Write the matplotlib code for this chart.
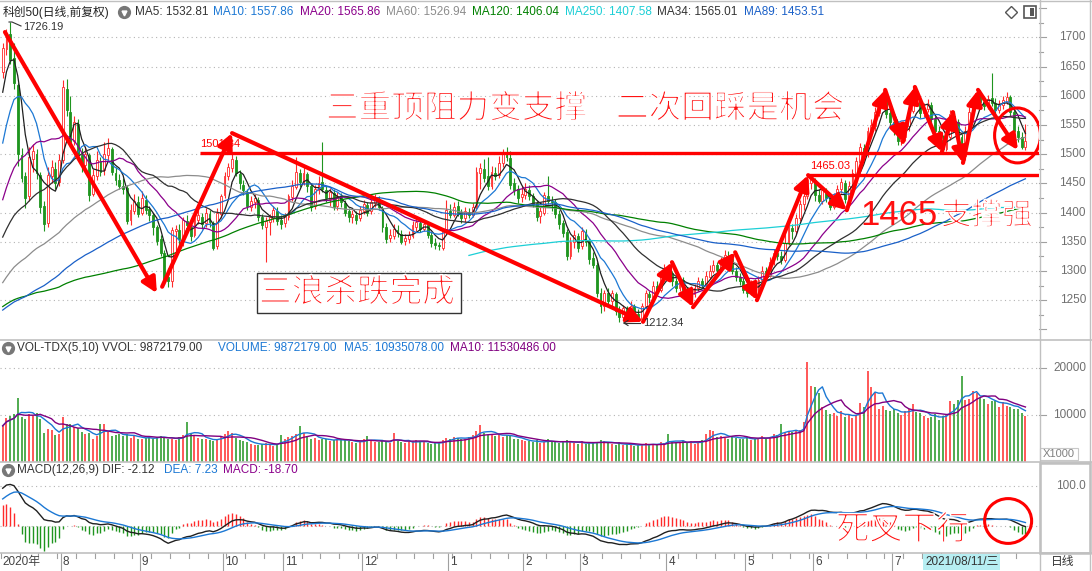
import numpy as np
import pandas as pd
import matplotlib
matplotlib.use('Agg')
import matplotlib.pyplot as plt
import matplotlib.transforms as mtransforms
import matplotlib.patheffects as pe
from matplotlib.patches import Ellipse, Rectangle
from matplotlib.lines import Line2D

plt.rcParams['font.family'] = ['Liberation Sans', 'Noto Sans CJK SC', 'DejaVu Sans']

# ---- data (index points) ----
# closes before the first visible bar, only used for the long moving averages / MACD
pre_close = [1000, 1030, 1060, 1100, 1140, 1165,
             1180, 1195, 1210, 1205, 1220, 1235, 1240, 1232, 1245, 1258, 1250, 1262, 1270, 1255, 1240, 1200,
             1215, 1235, 1250, 1262, 1275, 1285, 1295, 1305, 1320, 1315, 1330, 1320, 1290, 1269, 1280,
             1270, 1255, 1235, 1210, 1187, 1170, 1140, 1120, 1130, 1100, 1080, 1060, 1050, 1070, 1040,
             1060, 1090, 1110, 1100, 1120, 1130, 1125, 1140, 1150, 1145, 1160, 1155, 1165, 1170,
             1130, 1140, 1135, 1150, 1145, 1155, 1160, 1150, 1165, 1170, 1160, 1175, 1180, 1170, 1185,
             1190, 1195, 1185, 1200, 1205, 1210, 1200, 1215, 1211, 1222, 1225,
             1240, 1245, 1255, 1250, 1260, 1265, 1262, 1270, 1275, 1268, 1278, 1280, 1290, 1294,
             1290, 1300, 1310, 1305, 1320, 1330, 1335, 1340, 1350, 1370,
             1400, 1415, 1430, 1450, 1465,
             1530, 1570, 1610, 1638]

opens = [
    1640, 1680, 1705, 1665, 1618, 1498, 1462, 1428, 1492, 1500,
    1465, 1412, 1382, 1462, 1475, 1452, 1490, 1612, 1572, 1522,
    1552, 1498, 1482, 1498, 1432, 1462, 1488, 1472, 1498, 1508,
    1468, 1456, 1446, 1442, 1388, 1402, 1418, 1400, 1422, 1406,
    1396, 1376, 1355, 1330, 1290, 1282, 1368, 1370, 1352, 1386,
    1376, 1362, 1388, 1393, 1382, 1398, 1382, 1342, 1398, 1430,
    1462, 1476, 1490, 1466, 1448, 1436, 1410, 1418, 1422, 1392,
    1375, 1384, 1390, 1403, 1388, 1382, 1392, 1426, 1444, 1468,
    1454, 1466, 1446, 1412, 1438, 1452, 1438, 1424, 1434, 1412,
    1426, 1416, 1402, 1392, 1396, 1390, 1403, 1413, 1402, 1416,
    1423, 1408, 1376, 1357, 1360, 1370, 1364, 1352, 1355, 1360,
    1376, 1382, 1372, 1378, 1362, 1348, 1344, 1340, 1366, 1403,
    1396, 1412, 1400, 1390, 1400, 1396, 1410, 1468, 1474, 1462,
    1446, 1468, 1464, 1484, 1498, 1494, 1450, 1440, 1426, 1430,
    1438, 1428, 1416, 1394, 1400, 1428, 1420, 1418, 1398, 1382,
    1366, 1326, 1350, 1360, 1342, 1366, 1352, 1322, 1310, 1262,
    1240, 1262, 1248, 1260, 1232, 1222, 1235, 1226, 1240, 1226,
    1218, 1240, 1260, 1255, 1274, 1268, 1288, 1303, 1296, 1282,
    1270, 1284, 1268, 1256, 1260, 1270, 1282, 1276, 1290, 1300,
    1310, 1302, 1318, 1326, 1320, 1300, 1290, 1282, 1268, 1262,
    1278, 1270, 1285, 1300, 1292, 1315, 1330, 1325, 1318, 1348,
    1374, 1368, 1390, 1414, 1428, 1450, 1456, 1430, 1420, 1436,
    1426, 1410, 1428, 1440, 1450, 1425, 1444, 1466, 1486, 1510,
    1498, 1538, 1548, 1570, 1590, 1600, 1570, 1555, 1540, 1522,
    1530, 1548, 1574, 1604, 1590, 1570, 1578, 1584, 1560, 1540,
    1525, 1508, 1530, 1566, 1555, 1530, 1496, 1538, 1570, 1588,
    1604, 1590, 1582, 1596, 1588, 1575, 1584, 1590, 1598, 1572,
    1540, 1530, 1512]

closes = [
    1682, 1705, 1662, 1622, 1500, 1460, 1425, 1495, 1505, 1468,
    1410, 1380, 1465, 1478, 1450, 1490, 1615, 1575, 1520, 1555,
    1500, 1480, 1500, 1430, 1465, 1490, 1470, 1500, 1510, 1470,
    1455, 1445, 1440, 1385, 1405, 1420, 1398, 1425, 1405, 1395,
    1375, 1352, 1330, 1285, 1282, 1370, 1372, 1355, 1388, 1378,
    1360, 1390, 1395, 1380, 1400, 1384, 1340, 1400, 1428, 1462,
    1478, 1492, 1468, 1450, 1438, 1412, 1420, 1425, 1392, 1378,
    1385, 1392, 1405, 1386, 1380, 1394, 1428, 1445, 1470, 1452,
    1468, 1445, 1410, 1440, 1450, 1440, 1425, 1436, 1410, 1428,
    1418, 1400, 1392, 1398, 1388, 1405, 1415, 1400, 1418, 1425,
    1410, 1375, 1355, 1362, 1372, 1365, 1350, 1356, 1362, 1378,
    1384, 1372, 1380, 1362, 1348, 1345, 1342, 1368, 1405, 1395,
    1410, 1400, 1390, 1402, 1395, 1410, 1470, 1476, 1460, 1445,
    1470, 1462, 1485, 1500, 1495, 1448, 1438, 1425, 1432, 1440,
    1428, 1415, 1392, 1402, 1430, 1420, 1418, 1398, 1380, 1365,
    1325, 1350, 1362, 1340, 1368, 1350, 1320, 1310, 1262, 1240,
    1262, 1248, 1262, 1232, 1222, 1236, 1226, 1240, 1225, 1218,
    1240, 1262, 1255, 1275, 1268, 1290, 1305, 1296, 1282, 1270,
    1285, 1268, 1255, 1262, 1270, 1282, 1276, 1292, 1300, 1310,
    1302, 1318, 1328, 1320, 1300, 1290, 1282, 1268, 1262, 1278,
    1270, 1285, 1300, 1292, 1315, 1330, 1325, 1318, 1348, 1376,
    1368, 1390, 1415, 1428, 1455, 1458, 1430, 1420, 1438, 1425,
    1410, 1428, 1440, 1452, 1424, 1445, 1468, 1488, 1512, 1498,
    1540, 1550, 1572, 1590, 1600, 1568, 1555, 1540, 1522, 1530,
    1548, 1575, 1605, 1590, 1570, 1578, 1585, 1560, 1540, 1525,
    1508, 1530, 1568, 1555, 1530, 1495, 1540, 1572, 1590, 1605,
    1590, 1582, 1595, 1588, 1575, 1585, 1592, 1598, 1572, 1540,
    1530, 1512, 1522]

highs = [
    1690, 1715, 1726.19, 1690, 1622, 1510, 1470, 1512, 1518, 1508,
    1470, 1420, 1478, 1490, 1486, 1500, 1627, 1628, 1600, 1565,
    1560, 1510, 1512, 1502, 1475, 1505, 1495, 1520, 1528, 1512,
    1478, 1466, 1460, 1448, 1415, 1432, 1428, 1437, 1430, 1412,
    1400, 1378, 1362, 1336, 1305, 1376, 1378, 1380, 1393, 1395,
    1382, 1398, 1404, 1400, 1408, 1404, 1386, 1407, 1432, 1470,
    1485, 1501.84, 1496, 1472, 1456, 1440, 1428, 1432, 1426, 1398,
    1392, 1398, 1412, 1410, 1396, 1400, 1432, 1456, 1495, 1474,
    1478, 1470, 1450, 1448, 1462, 1521, 1446, 1442, 1440, 1436,
    1434, 1422, 1408, 1405, 1402, 1412, 1422, 1418, 1424, 1432,
    1428, 1412, 1382, 1372, 1380, 1378, 1370, 1364, 1368, 1385,
    1390, 1388, 1386, 1382, 1366, 1356, 1350, 1372, 1422, 1415,
    1418, 1420, 1406, 1410, 1408, 1416, 1478, 1485, 1492, 1495,
    1480, 1478, 1496, 1508, 1512, 1505, 1460, 1448, 1445, 1450,
    1448, 1434, 1420, 1410, 1436, 1462, 1428, 1424, 1405, 1388,
    1372, 1358, 1370, 1365, 1375, 1372, 1356, 1332, 1315, 1270,
    1268, 1270, 1268, 1264, 1240, 1242, 1240, 1248, 1244, 1235,
    1246, 1268, 1266, 1282, 1282, 1296, 1312, 1310, 1300, 1288,
    1292, 1290, 1272, 1275, 1278, 1290, 1288, 1300, 1310, 1318,
    1315, 1324, 1336, 1334, 1326, 1306, 1296, 1288, 1276, 1284,
    1286, 1292, 1308, 1306, 1324, 1338, 1340, 1334, 1364, 1384,
    1380, 1398, 1422, 1433, 1465.03, 1463, 1460, 1440, 1445, 1442,
    1432, 1434, 1448, 1460, 1455, 1454, 1475, 1495, 1519, 1518,
    1547, 1560, 1580, 1598, 1610, 1606, 1578, 1565, 1552, 1538,
    1555, 1582, 1615, 1612, 1596, 1588, 1594, 1590, 1566, 1548,
    1532, 1538, 1576, 1574, 1560, 1534, 1548, 1580, 1596, 1612,
    1610, 1600, 1602, 1639, 1596, 1592, 1600, 1606, 1602, 1578,
    1548, 1538, 1552]

lows = [
    1630, 1670, 1655, 1612, 1480, 1452, 1408, 1420, 1470, 1458,
    1400, 1368, 1375, 1450, 1440, 1445, 1485, 1565, 1512, 1515,
    1492, 1470, 1478, 1420, 1428, 1455, 1462, 1465, 1490, 1465,
    1448, 1440, 1432, 1380, 1378, 1398, 1392, 1395, 1398, 1385,
    1362, 1345, 1325, 1278, 1273, 1273, 1335, 1345, 1342, 1365,
    1352, 1358, 1380, 1372, 1376, 1375, 1336, 1338, 1390, 1425,
    1455, 1470, 1462, 1440, 1430, 1405, 1402, 1408, 1385, 1372,
    1315, 1362, 1383, 1378, 1372, 1376, 1388, 1420, 1440, 1444,
    1448, 1436, 1402, 1406, 1432, 1436, 1418, 1412, 1404, 1405,
    1410, 1394, 1384, 1382, 1380, 1385, 1398, 1394, 1398, 1410,
    1404, 1366, 1348, 1350, 1355, 1358, 1346, 1344, 1348, 1356,
    1368, 1366, 1368, 1356, 1341, 1338, 1336, 1336, 1364, 1390,
    1392, 1394, 1382, 1384, 1390, 1392, 1405, 1440, 1452, 1438,
    1440, 1455, 1460, 1478, 1488, 1440, 1430, 1416, 1418, 1424,
    1422, 1410, 1385, 1382, 1396, 1415, 1402, 1390, 1372, 1358,
    1318, 1320, 1340, 1332, 1338, 1342, 1312, 1305, 1255, 1228,
    1232, 1240, 1238, 1225, 1212.34, 1218, 1220, 1222, 1218, 1216,
    1214, 1235, 1246, 1250, 1262, 1264, 1282, 1288, 1274, 1264,
    1266, 1262, 1250, 1250, 1256, 1266, 1270, 1272, 1286, 1296,
    1296, 1298, 1312, 1314, 1294, 1282, 1276, 1262, 1256, 1258,
    1264, 1260, 1280, 1286, 1290, 1310, 1318, 1312, 1316, 1344,
    1355, 1364, 1385, 1405, 1424, 1440, 1420, 1416, 1415, 1418,
    1404, 1406, 1422, 1434, 1416, 1420, 1440, 1460, 1480, 1490,
    1495, 1530, 1540, 1565, 1582, 1562, 1548, 1532, 1516, 1515,
    1522, 1540, 1570, 1582, 1562, 1564, 1572, 1552, 1532, 1515,
    1502, 1505, 1525, 1545, 1522, 1484, 1490, 1532, 1565, 1580,
    1584, 1576, 1578, 1582, 1568, 1570, 1578, 1585, 1565, 1530,
    1520, 1508, 1507]

# volume in thousands (axis shows X1000)
volumes = [
    7700, 9400, 9800, 10300, 13700, 9600, 9200, 10200, 9800, 10400,
    9200, 6200, 7000, 6800, 5800, 6000, 9600, 8200, 8000, 7400,
    7200, 6400, 6000, 6200, 4800, 5600, 8000, 8100, 6400, 5600,
    5800, 6000, 5600, 5900, 5200, 5600, 5000, 4800, 5100, 5400,
    5000, 5300, 5600, 5200, 4800, 5000, 4600, 5400, 5800, 8500,
    6000, 5600, 5200, 4800, 5000, 4600, 4400, 5000, 5600, 6000,
    6600, 6200, 5200, 4600, 4400, 4200, 3800, 3600, 3600, 3800,
    4000, 3800, 3400, 3600, 5800, 5000, 5400, 5600, 6000, 7700,
    6200, 5600, 5000, 5200, 4600, 5000, 4800, 4400, 4600, 5000,
    4800, 4600, 4400, 4200, 4000, 4400, 4800, 5600, 4400, 4200,
    4200, 4600, 4400, 4000, 6200, 4400, 4200, 4000, 4200, 4400,
    4600, 4400, 4200, 4000, 3800, 4000, 4200, 4600, 5200, 5000,
    5400, 5200, 4800, 5000, 5400, 5800, 6600, 7900, 6200, 5800,
    6000, 5600, 5800, 5400, 5800, 5600, 5000, 4800, 4600, 4400,
    4400, 4200, 4600, 4000, 4300, 4800, 4400, 4200, 4000, 4400,
    4600, 4200, 4000, 3800, 4400, 3800, 4200, 4000, 4200, 4600,
    4400, 4000, 3800, 3600, 4200, 3600, 3800, 3600, 3400, 3600,
    3800, 4000, 3600, 3800, 3600, 4200, 4000, 5900, 4200, 4000,
    4200, 4400, 4000, 4400, 3800, 4200, 4600, 6000, 6850, 6600,
    5400, 5600, 5200, 5000, 5600, 5200, 4800, 5000, 5400, 4600,
    4800, 5200, 5600, 5000, 5400, 6000, 5800, 8000, 6200, 6600,
    6400, 6600, 6800, 8500, 21400, 16300, 16000, 14600, 11800, 11000,
    10200, 10400, 9800, 10800, 9600, 10000, 9400, 9800, 12600, 11800,
    19500, 16000, 14600, 11400, 12000, 11000, 10800, 11200, 10400, 10000,
    10800, 11200, 12300, 10600, 10400, 9800, 9400, 9600, 10200, 9000,
    9800, 10200, 13000, 12400, 13200, 18400, 13200, 13400, 15200, 14800,
    13700, 13400, 12400, 13000, 13000, 11800, 12800, 12000, 11800, 11400,
    11200, 10400, 9872]

month_labels = ['2020年', '8', '9', '10', '11', '12', '1', '2', '3', '4', '5', '6', '7']
month_start = [0, 16, 37, 59, 75, 96, 119, 139, 154, 177, 198, 216, 237]

ma_periods = [5, 10, 20, 60, 120, 250, 34, 89]
ma_colors = ['#202020', '#1c78d4', '#8b008b', '#8c8c8c', '#008000', '#1ccfd6', '#303030', '#1a60c8']
ma_header = ['MA5: 1532.81', 'MA10: 1557.86', 'MA20: 1565.86', 'MA60: 1526.94', 'MA120: 1406.04',
             'MA250: 1407.58', 'MA34: 1565.01', 'MA89: 1453.51']
ma_header_x = [135, 213, 300, 386, 472, 565, 657, 744]

# hand drawn annotations (bar index, price)
arrow_segments = [((0.6, 1709), (41.0, 1262)), ((42.4, 1273), (61.0, 1536)), ((61.0, 1536), (170.3, 1213))]
zigzag = [(170.3, 1213), (178.0, 1315), (183.6, 1238), (194.8, 1332), (200.6, 1250), (214.2, 1464),
          (224.5, 1404), (234.7, 1610), (239.4, 1521), (242.6, 1615), (249.8, 1504), (252.7, 1572),
          (255.4, 1485), (259.4, 1610), (270.0, 1507)]

RED = '#ff2a2a'
GREEN = '#1f951f'
GRID = '#b4b4b4'
LINE = '#c0c0c0'

n = min(len(opens), len(closes), len(highs), len(lows), len(volumes))
O = np.array(opens[:n], float)
C = np.array(closes[:n], float)
Hh = np.array(highs[:n], float)
Ll = np.array(lows[:n], float)
V = np.array(volumes[:n], float)
x = np.arange(n)
up = C >= O
cols = np.where(up, RED, GREEN)

W, Hpx = 1092, 571
fig = plt.figure(figsize=(W / 100, Hpx / 100), dpi=100)
fig.patch.set_facecolor('white')


def px_axes(x0, y0, x1, y1):
    a = fig.add_axes([x0 / W, 1 - y1 / Hpx, (x1 - x0) / W, (y1 - y0) / Hpx])
    a.set_axis_off()
    return a


def ftext(xp, yp, s, **kw):
    kw.setdefault('va', 'center')
    kw.setdefault('ha', 'left')
    return fig.text(xp / W, 1 - yp / Hpx, s, **kw)


def fline(xs, ys, **kw):
    fig.add_artist(Line2D([v / W for v in xs], [1 - v / Hpx for v in ys], transform=fig.transFigure, **kw))


# thin strokes like the hand-written song-style labels
thin = [pe.Stroke(linewidth=1.1, foreground='white')]
cjk = ['Noto Sans CJK SC']


def bigtext(xp, yp, s, size):
    return ftext(xp, yp, s, color='#ff1010', fontsize=size, family=cjk, zorder=9, path_effects=thin)


XL = (-2.7 / 3.76, (1039 - 2.7) / 3.76)
ax = px_axes(0, 0, 1039, 340)
axv = px_axes(0, 340, 1039, 462)
axm = px_axes(0, 462, 1039, 553)
axx = px_axes(0, 553, 1039, 571)
for a in (ax, axv, axm, axx):
    a.set_xlim(*XL)
ax.set_ylim(1181.8, 1763.9)
axv.set_ylim(0, 26000)
axm.set_ylim(-67.5, 160)
axx.set_ylim(0, 1)

# ---- price panel ----
for lv in range(1250, 1701, 50):
    ax.axhline(lv, color=GRID, lw=0.8, ls=(0, (1, 3)), zorder=0)

ax.vlines(x, Ll, Hh, colors=cols, lw=0.8, zorder=2)
ax.bar(x[up], np.maximum(C[up] - O[up], 0.8), bottom=O[up], width=0.5, facecolor='white',
       edgecolor=RED, lw=0.6, zorder=3)
ax.bar(x[~up], O[~up] - C[~up], bottom=C[~up], width=0.5, facecolor=GREEN,
       edgecolor=GREEN, lw=0.6, zorder=3)

full = pd.Series(pre_close + list(C))
npre = len(pre_close)
for p, colr in zip(ma_periods, ma_colors):
    ma = full.rolling(p).mean().iloc[npre:].to_numpy()
    ax.plot(x, ma, color=colr, lw=0.9, zorder=4)

# support lines and labels
ax.plot([52.5, XL[1] + 1], [1501.84, 1501.84], color='#ff0000', lw=2.4, zorder=6, solid_capstyle='butt')
ax.plot([214.2, XL[1] + 1], [1465.03, 1465.03], color='#ff0000', lw=2.4, zorder=6, solid_capstyle='butt')
ftext(200, 144, '1501.84', color='#ff0000', fontsize=8)
ftext(810, 166, '1465.03', color='#ff0000', fontsize=8)

arrow_kw = dict(arrowstyle='-|>,head_length=0.9,head_width=0.45', lw=3, color='#ff0000',
                shrinkA=0, shrinkB=0, mutation_scale=10)
for p0, p1 in arrow_segments + list(zip(zigzag[:-1], zigzag[1:])):
    ax.annotate('', xy=p1, xytext=p0, arrowprops=arrow_kw, zorder=8)

ax.add_patch(Ellipse((269.9, 1532), 12.2, 94, fill=False, ec='#ff0000', lw=2.2, zorder=8))

# high / low markers
ftext(23, 27, '1726.19', color='#333333', fontsize=8)
fline([9, 12, 21], [22, 22, 26], color='#333333', lw=0.8)
ftext(643, 323, '1212.34', color='#333333', fontsize=8)
fline([624, 640], [323, 323], color='#333333', lw=0.8)
fline([624, 628], [323, 320.5], color='#333333', lw=0.8)
fline([624, 628], [323, 325.5], color='#333333', lw=0.8)

# big annotation texts
bigtext(326, 109, '三重顶阻力变支撑', 23.5)
bigtext(616, 109, '二次回踩是机会', 23.5)
fig.add_artist(Rectangle((257 / W, 1 - 313 / Hpx), 204 / W, 40 / Hpx, transform=fig.transFigure,
                         facecolor='white', edgecolor='#333333', lw=1, zorder=7))
bigtext(259, 293, '三浪杀跌完成', 23.5)
ftext(860, 215, '1465', color='#ff1010', fontsize=25, family=['Liberation Sans'], zorder=9)
bigtext(941, 216, '支撑强', 22)

# header of price panel
ftext(3, 12, '科创50(日线,前复权)', color='#222222', fontsize=8.5)
fig.add_artist(Line2D([124 / W], [1 - 12 / Hpx], marker='o', ms=8.5, color='#777777', transform=fig.transFigure))
fig.add_artist(Line2D([124 / W], [1 - 12.5 / Hpx], marker='v', ms=3.5, color='white', transform=fig.transFigure))
hdr_colors = ['#333333', '#1c78d4', '#8b008b', '#8c8c8c', '#008000', '#1ccfd6', '#333333', '#1a60c8']
for s, xp, colr in zip(ma_header, ma_header_x, hdr_colors):
    ftext(xp, 12, s, color=colr, fontsize=8.5)
fig.add_artist(Line2D([1011 / W], [1 - 12 / Hpx], marker='D', ms=6, mfc='white', mec='#555555', mew=1,
                      transform=fig.transFigure))
fig.add_artist(Rectangle((1024 / W, 1 - 18 / Hpx), 12 / W, 12 / Hpx, transform=fig.transFigure,
                         facecolor='white', edgecolor='#555555', lw=1.2))
fig.add_artist(Rectangle((1030 / W, 1 - 16 / Hpx), 4 / W, 8 / Hpx, transform=fig.transFigure,
                         facecolor='#555555', edgecolor='none'))

# ---- volume panel ----
for lv in (10000, 20000):
    axv.axhline(lv, color=GRID, lw=0.8, ls=(0, (1, 3)), zorder=0)
axv.vlines(x, 0, V, colors=cols, lw=1.1, zorder=2)
vs = pd.Series(V)
axv.plot(x, vs.rolling(5, min_periods=1).mean(), color='#1c78d4', lw=1, zorder=3)
axv.plot(x, vs.rolling(10, min_periods=1).mean(), color='#800080', lw=1, zorder=3)

fig.add_artist(Line2D([7.7 / W], [1 - 348 / Hpx], marker='o', ms=8.5, color='#777777', transform=fig.transFigure))
fig.add_artist(Line2D([7.7 / W], [1 - 348.5 / Hpx], marker='v', ms=3.5, color='white', transform=fig.transFigure))
ftext(17, 348, 'VOL-TDX(5,10) VVOL: 9872179.00', color='#333333', fontsize=8.5)
ftext(218, 348, 'VOLUME: 9872179.00', color='#1c78d4', fontsize=8.5)
ftext(344, 348, 'MA5: 10935078.00', color='#1c78d4', fontsize=8.5)
ftext(450, 348, 'MA10: 11530486.00', color='#800080', fontsize=8.5)

# ---- MACD panel ----
ema12 = full.ewm(span=12, adjust=False).mean()
ema26 = full.ewm(span=26, adjust=False).mean()
dif = ema12 - ema26
dea = dif.ewm(span=9, adjust=False).mean()
macd = 2 * (dif - dea)
dif_v = dif.iloc[npre:].to_numpy()
dea_v = dea.iloc[npre:].to_numpy()
macd_v = macd.iloc[npre:].to_numpy()
for lv in (0, 100):
    axm.axhline(lv, color=GRID, lw=0.8, ls=(0, (1, 3)), zorder=0)
axm.vlines(x, 0, macd_v, colors=np.where(macd_v >= 0, RED, GREEN), lw=1.0, zorder=2)
axm.plot(x, dif_v, color='#202020', lw=1, zorder=3)
axm.plot(x, dea_v, color='#1c78d4', lw=1, zorder=3)
axm.add_patch(Ellipse((267.4, 12.5), 12.5, 112, fill=False, ec='#ff0000', lw=2.2, zorder=8))

fig.add_artist(Line2D([7.7 / W], [1 - 470 / Hpx], marker='o', ms=8.5, color='#777777', transform=fig.transFigure))
fig.add_artist(Line2D([7.7 / W], [1 - 470.5 / Hpx], marker='v', ms=3.5, color='white', transform=fig.transFigure))
ftext(17, 470, 'MACD(12,26,9) DIF: -2.12', color='#333333', fontsize=8.5)
ftext(164, 470, 'DEA: 7.23', color='#1c78d4', fontsize=8.5)
ftext(223, 470, 'MACD: -18.70', color='#8b008b', fontsize=8.5)
bigtext(836, 530, '死叉下行', 24)

# ---- right axis labels and ticks ----
tp = mtransforms.blended_transform_factory(fig.transFigure, ax.transData)
for lv in range(1250, 1701, 50):
    ax.text(1086 / W, lv, str(lv), transform=tp, ha='right', va='center', fontsize=8.5, color='#707070')
for lv in range(1200, 1751, 25):
    ln = 7 if lv % 50 == 0 else 4
    ax.plot([1039 / W, (1039 + ln) / W], [lv, lv], transform=tp, color='#a0a0a0', lw=0.8, clip_on=False)
tv = mtransforms.blended_transform_factory(fig.transFigure, axv.transData)
for lv in (10000, 20000):
    axv.text(1086 / W, lv, str(lv), transform=tv, ha='right', va='center', fontsize=8.5, color='#707070')
    axv.plot([1039 / W, 1046 / W], [lv, lv], transform=tv, color='#a0a0a0', lw=0.8, clip_on=False)
tm = mtransforms.blended_transform_factory(fig.transFigure, axm.transData)
axm.text(1086 / W, 100, '100.0', transform=tm, ha='right', va='center', fontsize=8.5, color='#707070')
fig.add_artist(Rectangle((1040 / W, 1 - 460 / Hpx), 38 / W, 12 / Hpx, transform=fig.transFigure,
                         facecolor='white', edgecolor='#c8c8c8', lw=0.8))
ftext(1059, 454, 'X1000', ha='center', color='#808080', fontsize=8)

# ---- bottom date axis ----
for i in range(0, n, 5):
    axx.plot([i - 0.5, i - 0.5], [1, 0.72], color='#a0a0a0', lw=0.8)
for lab, i0 in zip(month_labels, month_start):
    xp = 0.82 + 3.76 * i0
    if i0 > 0:
        axx.plot([i0 - 0.5, i0 - 0.5], [1, 0], color='#a0a0a0', lw=0.8)
        ftext(xp + 2, 562, lab, color='#444444', fontsize=8.5)
    else:
        ftext(2, 562, lab, color='#444444', fontsize=8.5)
fig.add_artist(Rectangle((923 / W, 1 - 570 / Hpx), 77 / W, 16 / Hpx, transform=fig.transFigure,
                         facecolor='#b6eef2', edgecolor='none'))
ftext(925, 562, '2021/08/11/三', color='#333333', fontsize=8.5)
ftext(1051, 562, '日线', color='#333333', fontsize=8.5)

# ---- frame lines ----
fline([0, W], [0.5, 0.5], color=LINE, lw=1)
for yp in (340, 462, 553):
    fline([0, W], [yp, yp], color=LINE, lw=1.2)
fline([1039.5, 1039.5], [0, Hpx], color=LINE, lw=1)
fline([1090, 1090], [0, Hpx], color=LINE, lw=1)
fig.add_artist(Rectangle((1040 / W, 1 - 553 / Hpx), 50 / W, 90 / Hpx, transform=fig.transFigure,
                         facecolor='none', edgecolor=LINE, lw=1.8))

fig.savefig('out.png', dpi=100, facecolor='white')
